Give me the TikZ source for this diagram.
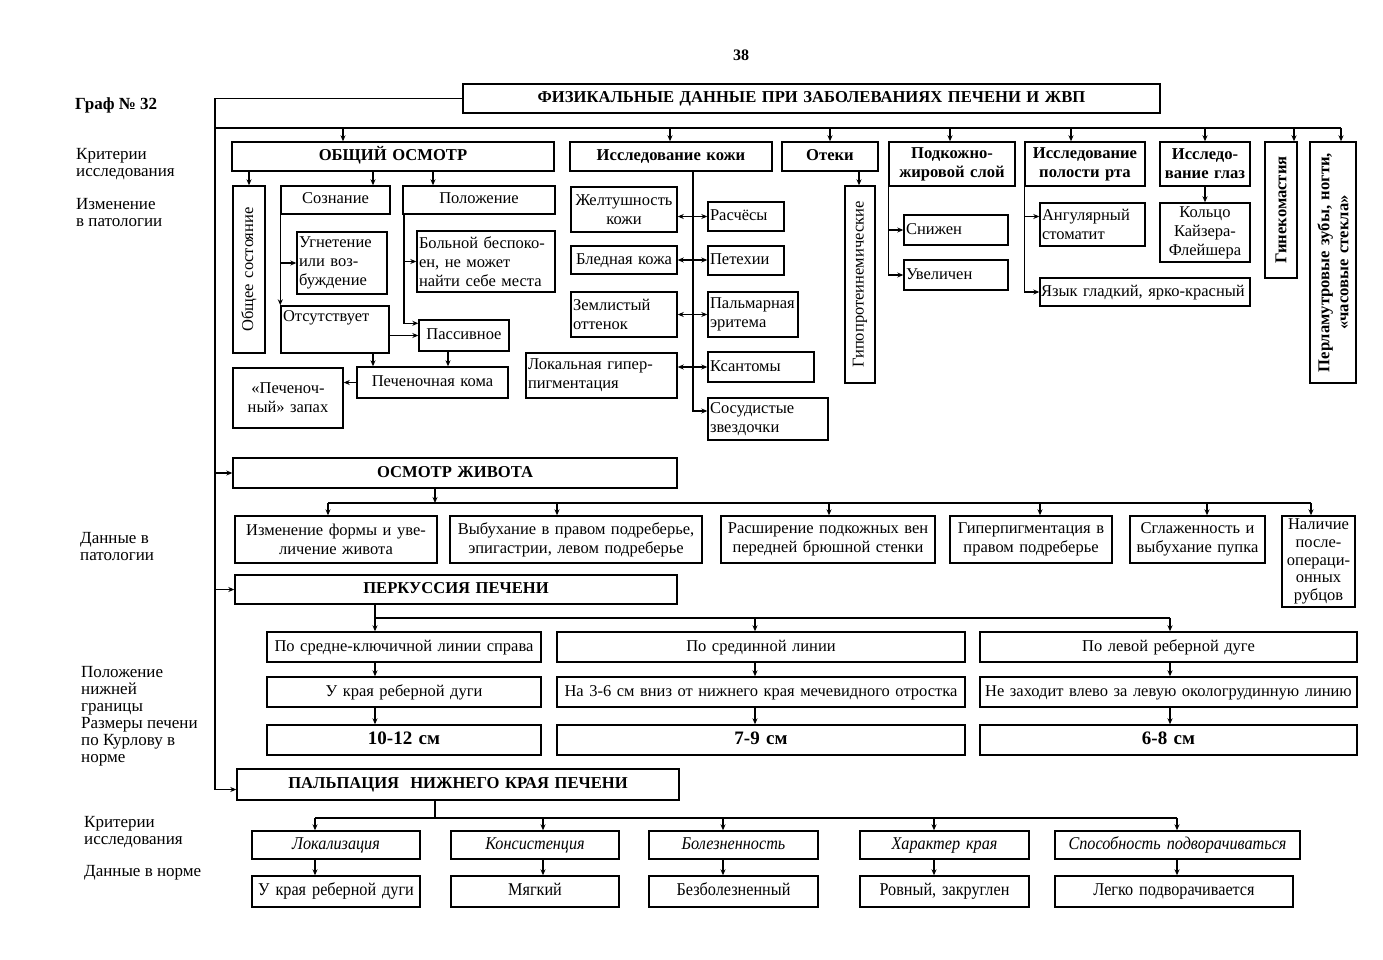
\documentclass[tikz,border=0pt]{standalone}
\usepackage{fontspec}
\setmainfont{Liberation Serif}
\newfontfamily\condf[FakeStretch=0.9]{Liberation Serif}
\usetikzlibrary{arrows.meta}
\tikzset{
 box/.style={draw,line width=1.4pt,inner ysep=0pt,inner xsep=2pt,align=center,font=\fontsize{16.5}{19}\selectfont},
 one/.style={text height=12pt,text depth=4pt},
 bf/.style={font=\bfseries\fontsize{16.6}{19}\selectfont},
 it/.style={one,font=\condf\itshape\fontsize{18}{19}\selectfont},
 cnd/.style={one,font=\condf\fontsize{18}{19}\selectfont},
 big/.style={one,font=\bfseries\fontsize{19}{21}\selectfont},
 ln/.style={line width=1.1pt},
 arr/.style={line width=1.1pt,-{Stealth[length=6pt,width=5pt]}},
 darr/.style={line width=1.1pt,{Stealth[length=6pt,width=5pt]}-{Stealth[length=6pt,width=5pt]}},
 lbl/.style={anchor=north west,align=left,inner sep=0pt,font=\fontsize{17}{17}\selectfont},
}
\newcommand\bx[7][]{%
 \pgfmathsetmacro\bxw{#5-#3}\pgfmathsetmacro\bxh{#6-#4}%
 \pgfmathsetmacro\bxx{(#3+#5)/2}\pgfmathsetmacro\bxy{(#4+#6)/2}%
 \pgfmathsetmacro\bxt{#5-#3-4}%
 \node[box,minimum width=\bxw pt,minimum height=\bxh pt,text width=\bxt pt,#1] (#2) at (\bxx,\bxy) {#7};}
\newcommand\rbx[7][]{%
 \pgfmathsetmacro\bxw{#5-#3}\pgfmathsetmacro\bxh{#6-#4}%
 \pgfmathsetmacro\bxx{(#3+#5)/2}\pgfmathsetmacro\bxy{(#4+#6)/2}%
 \pgfmathsetmacro\bxt{#6-#4-4}%
 \node[box,rotate=90,minimum width=\bxh pt,minimum height=\bxw pt,text width=\bxt pt,#1] (#2) at (\bxx,\bxy) {#7};}
\begin{document}
\begin{tikzpicture}[x=1pt,y=-1pt]
\fill[white] (0,0) rectangle (1383,960);
\useasboundingbox (0,0) rectangle (1383,960);

% page labels
\node[font=\bfseries\fontsize{16}{17}\selectfont] (pg) at (741,55) {38};
\node[lbl,font=\bfseries\fontsize{17}{17}\selectfont] (graf) at (75,98) {Граф № 32};
\node[lbl] (l1) at (76,148) {Критерии\\исследования};
\node[lbl] (l2) at (76,198) {Изменение\\в патологии};
\node[lbl] (l3) at (80,532) {Данные в\\патологии};
\node[lbl] (l4) at (81,666) {Положение\\нижней\\границы\\Размеры печени\\по Курлову в\\норме};
\node[lbl] (l5) at (84,816) {Критерии\\исследования};
\node[lbl] (l6) at (84,865) {Данные в норме};

% title
\bx[bf,one]{title}{463}{84}{1160}{113}{ФИЗИКАЛЬНЫЕ ДАННЫЕ ПРИ ЗАБОЛЕВАНИЯХ ПЕЧЕНИ И ЖВП}

% top row
\bx[bf,one]{obsh}{232}{142}{554}{171}{ОБЩИЙ ОСМОТР}
\bx[bf,one]{kozha}{570}{142}{772}{171}{Исследование кожи}
\bx[bf,one]{oteki}{782}{142}{878}{171}{Отеки}
\bx[bf]{podk}{889}{142}{1015}{186}{Подкожно-\\жировой слой}
\bx[bf]{rot}{1025}{142}{1145}{186}{Исследование\\полости рта}
\bx[bf]{glaz}{1160}{142}{1250}{186}{Исследо-\\вание глаз}
\rbx[bf]{gin}{1265}{142}{1297}{278}{Гинекомастия}
\rbx[bf]{perl}{1310}{142}{1356}{383}{Перламутровые зубы, ногти,\\«часовые стекла»}

% general exam
\rbx{obsost}{233}{186}{265}{353}{Общее состояние}
\bx[one]{soz}{281}{186}{390}{214}{Сознание}
\bx[one]{pol}{403}{186}{555}{214}{Положение}
\bx[align=left]{ugn}{297}{232}{387}{294}{Угнетение\\или воз-\\буждение}
\bx[align=left]{bol}{417}{231}{555}{292}{Больной беспоко-\\ен, не может\\найти себе места}
\bx[align=left]{ots}{281}{306}{389}{353}{Отсутствует\\[8pt]\mbox{}}
\bx[one]{pas}{419}{320}{509}{351}{Пассивное}
\bx[one]{koma}{357}{367}{508}{398}{Печеночная кома}
\bx{zap}{233}{368}{343}{428}{«Печеноч-\\ный» запах}

% skin
\bx{zhelt}{571}{187}{677}{232}{Желтушность\\кожи}
\bx[align=left,one]{rasch}{708}{202}{784}{231}{Расчёсы}
\bx[one]{bled}{571}{246}{677}{274}{Бледная кожа}
\bx[align=left,one]{pet}{708}{246}{784}{275}{Петехии}
\bx[align=left]{zeml}{571}{292}{677}{337}{Землистый\\оттенок}
\bx[align=left]{palm}{708}{292}{798}{337}{Пальмарная\\эритема}
\bx[align=left]{lok}{526}{353}{677}{398}{Локальная гипер-\\пигментация}
\bx[align=left,one]{ksan}{708}{352}{814}{382}{Ксантомы}
\bx[align=left]{zvezd}{708}{398}{828}{440}{Сосудистые\\звездочки}

% edema, fat, mouth, eyes
\rbx{gipo}{845}{186}{875}{383}{Гипопротеинемические}
\bx[align=left,one]{sniz}{904}{215}{1008}{245}{Снижен}
\bx[align=left,one]{uvel}{904}{260}{1008}{290}{Увеличен}
\bx[align=left]{ang}{1040}{203}{1145}{246}{Ангулярный\\стоматит}
\bx[align=left,one,inner xsep=1pt,text width=208pt]{yaz}{1040}{278}{1250}{306}{Язык гладкий, ярко-красный}
\bx{kolco}{1160}{203}{1250}{262}{Кольцо\\Кайзера-\\Флейшера}

% abdomen
\bx[bf,one]{osmz}{233}{458}{677}{488}{ОСМОТР ЖИВОТА}
\bx{z1}{235}{516}{437}{563}{Изменение формы и уве-\\личение живота}
\bx{z2}{450}{516}{702}{563}{Выбухание в правом подреберье,\\эпигастрии, левом подреберье}
\bx{z3}{721}{516}{935}{563}{Расширение подкожных вен\\передней брюшной стенки}
\bx{z4}{950}{516}{1112}{563}{Гиперпигментация в\\правом подреберье}
\bx{z5}{1130}{516}{1265}{563}{Сглаженность и\\выбухание пупка}
\bx[font=\fontsize{16.5}{17.8}\selectfont]{z6}{1282}{516}{1355}{607}{Наличие\\после-\\операци-\\онных\\рубцов}

% percussion
\bx[bf,one]{perk}{235}{575}{677}{604}{ПЕРКУССИЯ ПЕЧЕНИ}
\bx[one]{p1}{267}{632}{541}{662}{По средне-ключичной линии справа}
\bx[one]{p2}{557}{632}{965}{662}{По срединной линии}
\bx[one]{p3}{980}{632}{1357}{662}{По левой реберной дуге}
\bx[one]{u1}{267}{677}{541}{707}{У края реберной дуги}
\bx[one]{u2}{557}{677}{965}{707}{На 3-6 см вниз от нижнего края мечевидного отростка}
\bx[one]{u3}{980}{677}{1357}{707}{Не заходит влево за левую окологрудинную линию}
\bx[big]{s1}{267}{725}{541}{755}{10-12 см}
\bx[big]{s2}{557}{725}{965}{755}{7-9 см}
\bx[big]{s3}{980}{725}{1357}{755}{6-8 см}

% palpation
\bx[bf,one]{palp}{237}{769}{679}{800}{ПАЛЬПАЦИЯ\ \ НИЖНЕГО КРАЯ ПЕЧЕНИ}
\bx[it]{k1}{252}{831}{420}{859}{Локализация}
\bx[it]{k2}{451}{831}{619}{859}{Консистенция}
\bx[it]{k3}{649}{831}{818}{859}{Болезненность}
\bx[it]{k4}{860}{831}{1029}{859}{Характер края}
\bx[it]{k5}{1055}{831}{1300}{859}{Способность подворачиваться}
\bx[cnd]{n1}{252}{876}{420}{907}{У края реберной дуги}
\bx[cnd]{n2}{451}{876}{619}{907}{Мягкий}
\bx[cnd]{n3}{649}{876}{818}{907}{Безболезненный}
\bx[cnd]{n4}{860}{876}{1029}{907}{Ровный, закруглен}
\bx[cnd]{n5}{1055}{876}{1293}{907}{Легко подворачивается}

% ===== connectors =====
\coordinate (bus) at (215,128);
\draw[arr] (title.west) -- (title.west -| bus) -- ([yshift=-5pt]palp.west -| bus) -- ([yshift=-5pt]palp.west);
\draw[ln] (bus) -- (bus -| 1341,0);
\draw[arr] (osmz.west -| bus) -- (osmz.west);
\draw[arr] (perk.west -| bus) -- (perk.west);
\foreach \n/\xx in {obsh/343,kozha/670,oteki/830,podk/950,rot/1071,glaz/1205}
  \draw[arr] (bus -| \xx,0) -- (\n.north -| \xx,0);
\draw[arr] (bus -| 1294,0) -- (gin.east -| 1294,0);
\draw[arr] (bus -| 1341,0) -- (perl.east -| 1341,0);
% general exam
\draw[arr] (obsh.south -| obsost) -- (obsost.east);
\draw[arr] (obsh.south -| 373,0) -- (soz.north -| 373,0);
\draw[arr] (obsh.south -| 433,0) -- (pol.north -| 433,0);
\draw[arr] (soz.south west) -- (ots.north west);
\draw[arr] (ugn.west -| soz.south west) -- (ugn.west);
\draw[arr] (pol.south -| 404,0) |- ([yshift=-4pt]pas.north west);
\draw[arr] (bol.west -| 404,0) -- (bol.west);
\draw[arr] (ots.east |- pas.west) -- (pas.west);
\draw[arr] (ots.south -| 373,0) -- (koma.north -| 373,0);
\draw[arr] (pas.south -| 448,0) -- (koma.north -| 448,0);
\draw[arr] (koma.west) -- (zap.east |- koma.west);
% skin
\draw[arr] (kozha.south -| 693,0) |- ([yshift=8pt]zvezd.west);
\draw[darr] (zhelt.east |- rasch.west) -- (rasch.west);
\draw[darr] (bled.east) -- (pet.west |- bled.east);
\draw[darr] (zeml.east) -- (palm.west |- zeml.east);
\draw[darr] (lok.east |- ksan.west) -- (ksan.west);
% edema etc
\draw[arr] (oteki.south -| 859,0) -- (gipo.east -| 859,0);
\draw[arr] (podk.south west) |- (uvel.west);
\draw[arr] (sniz.west -| podk.south west) -- (sniz.west);
\draw[arr] (rot.south west) |- (yaz.west);
\draw[arr] ([yshift=8pt]ang.west -| rot.south west) -- ([yshift=8pt]ang.west);
\draw[arr] (glaz.south -| 1205,0) -- (kolco.north -| 1205,0);
% abdomen
\coordinate (zb) at (0,503);
\draw[arr] (osmz.south -| 435,0) -- (zb -| 435,0);
\draw[ln] (zb -| 328,0) -- (zb -| 1311,0);
\foreach \n/\xx in {z1/328,z2/557,z3/829,z4/1040,z5/1207,z6/1311}
  \draw[arr] (zb -| \xx,0) -- (\n.north -| \xx,0);
% percussion
\coordinate (pb) at (0,618);
\draw[arr] (perk.south -| 375,0) -- (p1.north -| 375,0);
\draw[ln] (pb -| 375,0) -- (pb -| 1170,0);
\draw[arr] (pb -| 755,0) -- (p2.north -| 755,0);
\draw[arr] (pb -| 1170,0) -- (p3.north -| 1170,0);
\foreach \a/\b/\xx in {p1/u1/375,u1/s1/375,p2/u2/755,u2/s2/755,p3/u3/1170,u3/s3/1170}
  \draw[arr] (\a.south -| \xx,0) -- (\b.north -| \xx,0);
% palpation
\coordinate (lb) at (0,818);
\draw[ln] (palp.south -| 435,0) -- (lb -| 435,0);
\draw[ln] (lb -| 315,0) -- (lb -| 1177,0);
\foreach \a/\b/\xx in {k1/n1/315,k2/n2/543,k3/n3/723,k4/n4/934,k5/n5/1177}{
  \draw[arr] (lb -| \xx,0) -- (\a.north -| \xx,0);
  \draw[arr] (\a.south -| \xx,0) -- (\b.north -| \xx,0);
}
\end{tikzpicture}
\end{document}
